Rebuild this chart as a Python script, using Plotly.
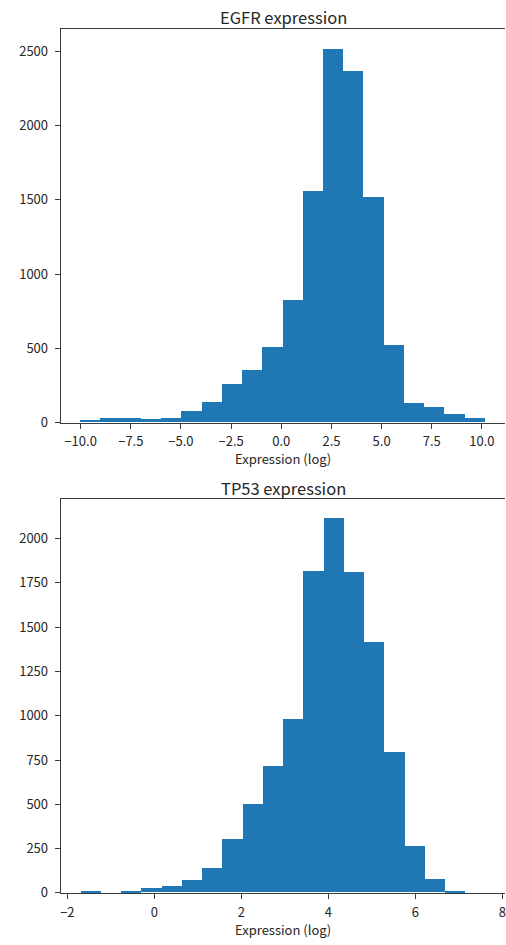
import numpy as np
import plotly.graph_objects as go

# ---- data ----
egfr_lo, egfr_hi = -10.03, 10.13
egfr_counts = [15, 30, 30, 24, 30, 76, 140, 256, 356, 505,
               825, 1556, 2511, 2362, 1518, 520, 129, 105, 60, 31]

tp53_lo, tp53_hi = -1.70, 7.61
tp53_counts = [9, 0, 10, 23, 38, 68, 135, 301, 500, 711,
               979, 1815, 2114, 1807, 1411, 795, 264, 75, 8, 0]

titles = ["EGFR expression", "TP53 expression"]
xlabel = "Expression (log)"

W, H = 506, 945
FONT = "Noto Sans CJK JP, Noto Sans, sans-serif"
BLUE = "#1f77b4"
AX = "#3a3a3a"


def py(p):  # pixel y -> paper fraction
    return 1 - p / H


fig = go.Figure()

panels = [
    dict(lo=egfr_lo, hi=egfr_hi, counts=egfr_counts, top=29.5, bot=426.7,
         xr=[-10.99, 11.15], yr=[0, 2648], xd=2.5, xf=".1f", yd=500,
         title_y=16.7, label_y=463),
    dict(lo=tp53_lo, hi=tp53_hi, counts=tp53_counts, top=504.3, bot=901.5,
         xr=[-2.152, 8.06], yr=[0, 2220], xd=2, xf="d", yd=250,
         title_y=492.3, label_y=938),
]

annotations = []
for i, p in enumerate(panels):
    edges = np.linspace(p["lo"], p["hi"], len(p["counts"]) + 1)
    centers = (edges[:-1] + edges[1:]) / 2
    widths = np.diff(edges)
    xa = "x" if i == 0 else "x2"
    ya = "y" if i == 0 else "y2"
    fig.add_trace(go.Bar(x=centers, y=p["counts"], width=widths,
                         marker=dict(color=BLUE, line=dict(width=0)),
                         xaxis=xa, yaxis=ya, showlegend=False, hoverinfo="skip"))
    axkey = "" if i == 0 else "2"
    common = dict(showgrid=False, zeroline=False, ticks="outside", ticklen=5,
                  tickwidth=1, tickcolor=AX, linecolor=AX, linewidth=1.2,
                  showline=True, ticklabeloverflow="allow",
                  tickfont=dict(family=FONT, size=13, color="#262626"))
    fig.layout["xaxis" + axkey] = dict(
        domain=[60 / W, 1], range=p["xr"], dtick=p["xd"], tick0=0,
        tickformat=p["xf"], mirror=True, anchor=ya,
        ticklabelstandoff=2, **common)
    fig.layout["yaxis" + axkey] = dict(
        domain=[py(p["bot"]), py(p["top"])], range=p["yr"], dtick=p["yd"],
        tick0=0, anchor=xa, ticklabelstandoff=4, **common)
    annotations.append(dict(text=titles[i], xref="paper", yref="paper",
                            x=(60 + 507) / 2 / W, y=py(p["title_y"]),
                            xanchor="center", yanchor="middle", showarrow=False,
                            font=dict(family=FONT, size=16.5, color="#262626")))
    annotations.append(dict(text=xlabel, xref="paper", yref="paper",
                            x=(60 + 507) / 2 / W, y=py(p["label_y"]),
                            xanchor="center", yanchor="middle", showarrow=False,
                            font=dict(family=FONT, size=13, color="#262626")))

fig.update_layout(width=W, height=H, margin=dict(l=0, r=0, t=0, b=0),
                  paper_bgcolor="white", plot_bgcolor="white", bargap=0,
                  annotations=annotations)
fig.write_html("out.html")
